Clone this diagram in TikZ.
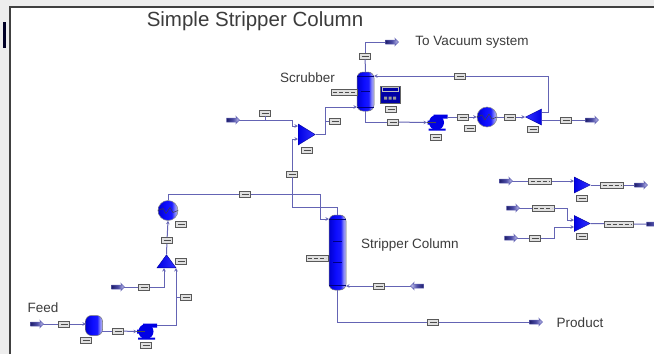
\documentclass[tikz,border=0pt]{standalone}
\usepackage{fontspec}
\usepackage{tikz}
\usetikzlibrary{shapes.geometric,shapes.arrows,arrows.meta}
\setmainfont{Liberation Sans}
\definecolor{linecol}{HTML}{6464B4}
\definecolor{txtcol}{HTML}{3C3C3C}
\pgfdeclarehorizontalshading{eqshade}{100bp}{rgb(0bp)=(0,0,.82); rgb(25bp)=(0,0,.82); rgb(45bp)=(.05,.05,1); rgb(59bp)=(.1,.1,1); rgb(67bp)=(.5,.5,.98); rgb(75bp)=(.74,.74,.92); rgb(100bp)=(.74,.74,.92)}
\pgfdeclarehorizontalshading{streamshade}{100bp}{rgb(0bp)=(.12,.12,.42); rgb(25bp)=(.12,.12,.42); rgb(50bp)=(.3,.3,.65); rgb(75bp)=(.78,.78,.95); rgb(100bp)=(.78,.78,.95)}
\pgfdeclarehorizontalshading{streamback}{100bp}{rgb(0bp)=(.78,.78,.95); rgb(25bp)=(.78,.78,.95); rgb(50bp)=(.3,.3,.65); rgb(75bp)=(.12,.12,.42); rgb(100bp)=(.12,.12,.42)}
\tikzset{
	flow/.style={draw=linecol,line width=1pt,line join=miter},
	flowin/.style={flow,-{Stealth[length=3.5pt,width=3.5pt,open]}},
	tagbox/.style={draw=black!65,fill=black!12,line width=.7pt,inner sep=0pt,minimum width=11pt,minimum height=6pt,
		path picture={\draw [black!70,line width=.6pt] ([xshift=2pt]path picture bounding box.west) -- ([xshift=-2pt]path picture bounding box.east);}},
	longtag/.style={draw=black!65,fill=black!12,line width=.7pt,inner sep=0pt,minimum width=#1,minimum height=6pt,
		path picture={\draw [black!70,line width=.6pt,dash pattern=on 4pt off 2pt] ([xshift=2pt]path picture bounding box.west) -- ([xshift=-2pt]path picture bounding box.east);}},
	stream/.style={single arrow,draw=linecol,line width=.5pt,shade,shading=streamshade,text width=5pt,text height=3.5pt,text depth=0pt,
		inner sep=0pt,minimum height=13pt,single arrow head extend=1.5pt,single arrow head indent=.5pt},
	streamleft/.style={stream,shading=streamback,shape border rotate=180},
	vessel/.style={draw=black!55,line width=.5pt,rounded corners=6pt,shade,shading=eqshade,inner sep=0pt},
	heatx/.style={circle,draw=black!45,line width=.5pt,inner sep=0pt,minimum size=20pt,shade,shading=eqshade},
	mixer/.style={isosceles triangle,isosceles triangle stretches,anchor=lower side,draw=blue!60!black,line width=.4pt,inner sep=0pt,left color=blue!90!black,right color=blue!80!white},
	pumpbody/.style={circle,inner sep=0pt,minimum size=15pt,fill=blue!90!black},
	label/.style={text=txtcol,inner sep=0pt,font=\fontsize{13.5}{15}\selectfont},
}
\begin{document}
\begin{tikzpicture}[x=1pt,y=-1pt]
	\useasboundingbox (0,0) rectangle (654,354);
	% window
	\fill [black!7] (0,0) rectangle (654,354);
	\fill [white] (10,7) rectangle (654,354);
	\draw [black!75,line width=1.5pt] (10,354) -- (10,7) -- (654,7);
	\fill [black!85!blue] (2.5,22) rectangle (5.5,48);

	\node [label,font=\fontsize{20.5}{23}\selectfont] (title) at (255,21.5) {Simple Stripper Column};
	\node [label] (feedtxt) at (43,308) {Feed};
	\node [label] (scrubtxt) at (307.5,78) {Scrubber};
	\node [label] (vactxt) at (472,42) {To Vacuum system};
	\node [label] (striptxt) at (410,245) {Stripper Column};
	\node [label] (prodtxt) at (580,323) {Product};

	% equipment
	\node [vessel,minimum width=17pt,minimum height=20pt] (drum) at (94,325.5) {};
	\node [pumpbody] (pumpa) at (146,331.5) {};
	\node [pumpbody] (pumpb) at (436.5,122.5) {};
	\foreach \p in {pumpa,pumpb} {
		\fill [blue!90!black,shift={(\p)}] (-9,-2) rectangle (0,2) (-3,-8) rectangle (11,-4) (-8,6) rectangle (9,8);
		\draw [black!70,line width=.6pt,shift={(\p)}] (-10,0) -- (-1,0);
	}
	\node [mixer,shape border rotate=90,minimum width=19pt,minimum height=13pt] (mixa) at (166.5,268) {};
	\node [mixer,minimum width=21pt,minimum height=17pt] (mixb) at (298,134.5) {};
	\node [mixer,shape border rotate=180,left color=blue!80!white,right color=blue!90!black,minimum width=16pt,minimum height=16pt] (mixc) at (541.7,117) {};
	\node [mixer,minimum width=16pt,minimum height=16pt] (mixd) at (574,185) {};
	\node [mixer,minimum width=16pt,minimum height=16pt] (mixe) at (574,223.5) {};
	\node [heatx] (hxa) at (168,210.5) {};
	\node [heatx] (hxb) at (487,117) {};
	\foreach \h in {hxa,hxb}
		\draw [black!75,line width=.5pt,shift={(\h)}] (-10,0) -- (-5,-2) -- (-2,3) -- (2,-3) -- (5,2) -- (10,0);
	\node [vessel,minimum width=17pt,minimum height=75pt] (stripper) at (337.5,252.5) {};
	\node [vessel,minimum width=17pt,minimum height=39pt] (scrubber) at (365.5,91.5) {};
	\draw [blue!50!black,line width=.6pt]
		(329,219) -- (346,219) (333,241) -- (342,241) (333,262) -- (342,262) (329,285) -- (346,285)
		(357,76) -- (374,76) (361,91) -- (370,91) (357,107) -- (374,107);
	\node [draw=black!60,fill=blue!65!black,minimum width=20pt,minimum height=17pt,inner sep=0pt] (ctrl) at (390,94.5) {};
	\draw [black!25,line width=.5pt,shift={(ctrl)}] (-8,-7) rectangle (8,-3);
	\fill [black!40,shift={(ctrl)}] (-6,2) rectangle (-3,5) (-1.5,2) rectangle (1.5,5) (3,2) rectangle (6,5);

	% tags
	\foreach \n/\a/\b in {ta/64/324,tb/86/340,tc/118/331,td/146/345,te/186/297,tf/144/287,tg/181/261,th/167/240.5,ti/181/224,
		tj/245/194,tk/292/174,tl/265/113,tm/335/121.5,tn/307/150,to/365/56,tp/391/109,tq/393/122,tr/436/137,ts/463/117,tt/470/128,
		tu/510/117,tv/533/129,tw/566/120,tx/460/76,ty/379/286,tz/433/322,taa/582/198,tab/535/238,tac/582/236}
		\node [tagbox] (\n) at (\a,\b) {};
	\node [longtag=26pt] (reflux) at (344,92) {};
	\node [longtag=22pt] (bottom) at (317,258) {};
	\node [longtag=23pt] (rta) at (540,181) {};
	\node [longtag=23pt] (rtb) at (612,185) {};
	\node [longtag=22pt] (rtc) at (543,208) {};
	\node [longtag=29pt] (rtd) at (619,224) {};

	% bends and ports
	\coordinate (sfeed) at (36,324);
	\coordinate (sleft) at (117,287);
	\coordinate (sgas) at (232,120);
	\coordinate (svac) at (391,42);
	\coordinate (sout) at (591,120);
	\coordinate (sret) at (418,286);
	\coordinate (sprod) at (535,322);
	\coordinate (sra) at (505,181);
	\coordinate (srb) at (640,185);
	\coordinate (src) at (512,208);
	\coordinate (srd) at (510,238);
	\coordinate (sre) at (652,224);
	\coordinate (drumin) at (86,324);
	\coordinate (drumout) at (102,331);
	\coordinate (pumpain) at (137,331.5);
	\coordinate (pumpaout) at (157,325);
	\coordinate (mixaa) at (164,268);
	\coordinate (mixab) at (176,268);
	\coordinate (stripa) at (329,219);
	\coordinate (stripb) at (346,286);
	\coordinate (scruba) at (357,107);
	\coordinate (scrubb) at (374,76);
	\coordinate (scrubc) at (365.5,111);
	\coordinate (pumpbin) at (427,122.5);
	\coordinate (pumpbout) at (447,117);
	\coordinate (mixcin) at (525,117);
	\coordinate (mixctop) at (542,112);
	\coordinate (mixcbot) at (542,120);

	% connectors
	\draw [flowin] (sfeed) -- (ta) -- (drumin);
	\draw [flow] (drumout) -- (tc);
	\draw [flowin] (tc) -- (pumpain);
	\draw [flowin] (pumpaout) -- (176,325) -- (mixab);
	\draw [flow] (te) -- (176,297);
	\draw [flowin] (sleft) -- (tf) -| (mixaa);
	\draw [flow] (mixa.apex) -- (th);
	\draw [flowin] (th) -- (hxa.south);
	\draw [flow] (hxa.north) |- (tj);
	\draw [flowin] (tj) -| (320.5,219) -- (stripa);
	\draw [flow] (tk) -- (292,207.5) -| (stripper.north);
	\draw [flowin] (tk) -- (292,139) -- (298,139);
	\draw [flowin] (sgas) -- (292,120) -- (292,126) -- (298,126);
	\draw [flow] (tl) -- (265,120);
	\draw [flowin] (mixb.apex) -| (325,107) -- (scruba);
	\draw [flow] (tm) -- (325,121.5);
	\draw [flow] (scrubber.north) -- (to);
	\draw [flow] (to) |- (svac);
	\draw [flow] (scrubc) |- (tq);
	\draw [flowin] (tq) -- (pumpbin);
	\draw [flow] (pumpbout) -- (ts);
	\draw [flowin] (ts) -- (hxb);
	\draw [flow] (hxb) -- (tu);
	\draw [flowin] (tu) -- (mixcin);
	\draw [flow] (mixctop) -- (548,112) |- (tx);
	\draw [flowin] (tx) -- (scrubb);
	\draw [flow] (mixcbot) -- (tw) -- (sout);
	\draw [flowin] (sret) -- (ty) -- (stripb);
	\draw [flow] (stripper.south) |- (tz);
	\draw [flow] (tz) -- (sprod);
	\draw [flowin] (sra) -- (rta) -- (574,181);
	\draw [flow] (mixd.apex) -- (rtb) -- (srb);
	\draw [flowin] (src) -- (rtc) -- (567,208) -- (567,220) -- (574,220);
	\draw [flowin] (srd) -- (tab) -- (554,238) -- (554,227) -- (574,227);
	\draw [flow] (mixe.apex) -- (rtd) -- (sre);

	% streams
	\foreach \s in {sfeed,sleft,sgas,svac,sout,sprod,sra,srb,src,srd,sre}
		\node [stream] (\s arrow) at (\s) {};
	\node [streamleft] (sretarrow) at (sret) {};
\end{tikzpicture}
\end{document}
